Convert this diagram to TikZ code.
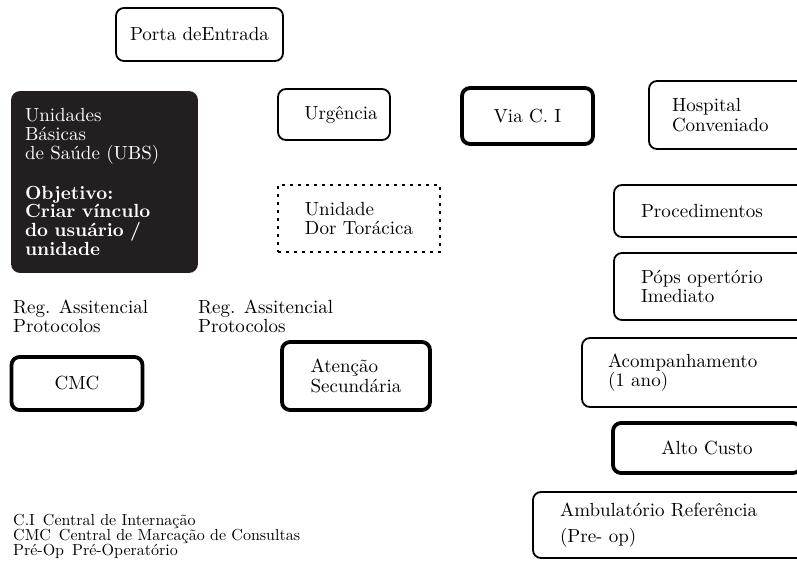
\documentclass[tikz,border=0pt]{standalone}
\usepackage{fontspec}
\setmainfont{lmroman10-regular.otf}[BoldFont=lmroman10-bold.otf]
\usepackage{tikz}
\definecolor{ubsfill}{RGB}{35,31,32}

\begin{document}
\begin{tikzpicture}[x=1pt,y=-1pt,
    box/.style={draw, rounded corners=8pt, line width=1.8pt, align=left,
        inner sep=0pt, font=\fontsize{19}{19.5}\selectfont},
    heavybox/.style={box, line width=3.8pt},
    dotbox/.style={box, rounded corners=0pt, line width=2.6pt,
        dash pattern=on 2.6pt off 5.4pt},
    note/.style={align=left, inner sep=0pt, font=\fontsize{19}{18.8}\selectfont}]

    % Frame
    \useasboundingbox (0,0) rectangle (797,562);
    \clip (0,0) rectangle (797,562);

    % Entry
    \node[box, minimum width=167pt, minimum height=53pt] (porta) at (199.5,34.5) {Porta deEntrada};

    % Basic units
    \node[box, fill=ubsfill, draw=ubsfill, text=white, text width=159pt, inner xsep=13pt,
        minimum height=180pt, font=\fontsize{19}{18.7}\selectfont] (ubs) at (104.5,182)
        {Unidades\\ Básicas\\ de Saúde (UBS)\\[21pt]
         \bfseries Objetivo:\\ \bfseries Criar vínculo\\ \bfseries do usuário /\\ \bfseries unidade};

    % Middle column
    \node[box, minimum width=112pt, minimum height=51pt] (urg) at (334,114.5) {\hspace*{14pt}Urgência};
    \node[heavybox, minimum width=131pt, minimum height=56pt] (via) at (527.5,116) {Via C. I};
    \node[dotbox, minimum width=162pt, minimum height=67pt] (dor) at (359,218.5) {Unidade\\ Dor Torácica};

    % Hospital side
    \node[box, text width=135pt, inner xsep=23pt, minimum height=68pt] (hosp) at (739.5,115) {Hospital\\ Conveniado};
    \node[box, text width=162pt, inner xsep=27pt, minimum height=52pt] (proc) at (722,211) {Procedimentos};
    \node[box, text width=162pt, inner xsep=27pt, minimum height=67pt] (pops) at (722,286.5) {Póps opertório\\ Imediato};
    \node[box, text width=196pt, inner xsep=26pt, minimum height=69pt] (acomp) at (706,372.5) {Acompanhamento\\ (1 ano)};
    \node[heavybox, minimum width=188pt, minimum height=50pt] (alto) at (707,448) {Alto Custo};
    \node[box, text width=243pt, inner xsep=27pt, minimum height=66pt] (ambu) at (681.5,525)
        {Ambulatório Referência\\[6pt] (Pre- op)};

    % Regulation
    \node[note, anchor=north west] (reg1) at (13,300) {Reg. Assitencial\\ Protocolos};
    \node[note, anchor=north west] (reg2) at (198,300) {Reg. Assitencial\\ Protocolos};
    \node[heavybox, minimum width=131pt, minimum height=53pt] (cmc) at (77,383.5) {CMC};
    \node[heavybox, minimum width=148pt, minimum height=68pt] (atsec) at (356,376) {Atenção\\ Secundária};

    % Legend
    \node[note, anchor=north west, font=\fontsize{16}{15}\selectfont] (legenda) at (13,514)
        {C.I\enspace Central de Internação\\
         CMC\enspace Central de Marcação de Consultas\\
         Pré-Op\enspace Pré-Operatório};
\end{tikzpicture}
\end{document}
